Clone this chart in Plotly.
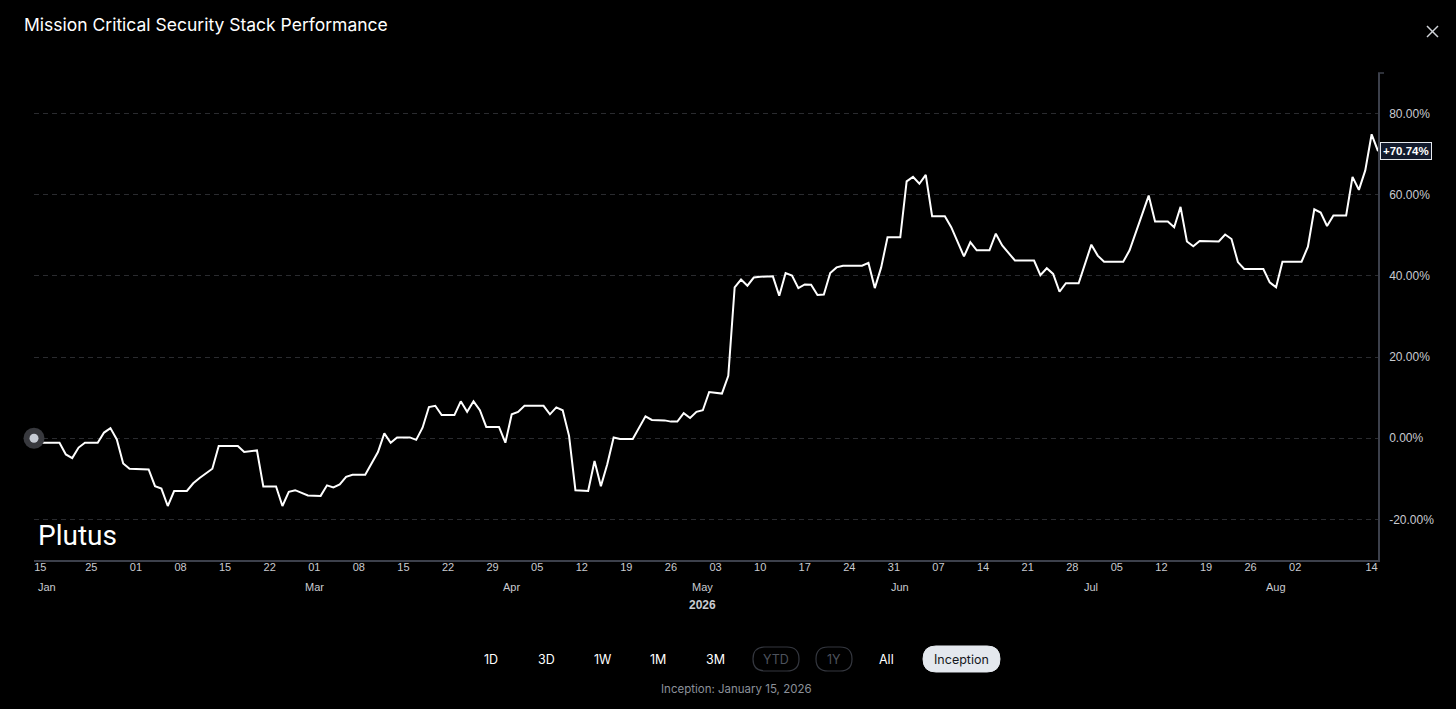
import plotly.graph_objects as go

W, H = 1456, 709

# ── Datos de la curva (rendimiento acumulado, %) ───────────────────────────
dates = [
    "2026-01-16", "2026-01-17", "2026-01-20", "2026-01-21", "2026-01-22", "2026-01-23",
    "2026-01-24", "2026-01-26", "2026-01-27", "2026-01-28", "2026-01-29", "2026-01-30",
    "2026-01-31", "2026-02-03", "2026-02-04", "2026-02-05", "2026-02-06", "2026-02-07",
    "2026-02-09", "2026-02-10", "2026-02-11", "2026-02-13", "2026-02-14", "2026-02-17",
    "2026-02-18", "2026-02-20", "2026-02-21", "2026-02-23", "2026-02-24", "2026-02-25",
    "2026-02-26", "2026-02-28", "2026-03-02", "2026-03-03", "2026-03-04", "2026-03-05",
    "2026-03-06", "2026-03-07", "2026-03-09", "2026-03-11", "2026-03-12", "2026-03-13",
    "2026-03-14", "2026-03-16", "2026-03-17", "2026-03-18", "2026-03-19", "2026-03-20",
    "2026-03-21", "2026-03-23", "2026-03-24", "2026-03-25", "2026-03-26", "2026-03-27",
    "2026-03-28", "2026-03-30", "2026-03-31", "2026-04-01", "2026-04-02", "2026-04-03",
    "2026-04-06", "2026-04-07", "2026-04-08", "2026-04-09", "2026-04-10", "2026-04-11",
    "2026-04-13", "2026-04-14", "2026-04-15", "2026-04-16", "2026-04-17", "2026-04-18",
    "2026-04-20", "2026-04-22", "2026-04-23", "2026-04-25", "2026-04-26", "2026-04-27",
    "2026-04-28", "2026-04-29", "2026-04-30", "2026-05-01", "2026-05-02", "2026-05-04",
    "2026-05-05", "2026-05-06", "2026-05-07", "2026-05-08", "2026-05-09", "2026-05-10",
    "2026-05-12", "2026-05-13", "2026-05-14", "2026-05-15", "2026-05-16", "2026-05-17",
    "2026-05-18", "2026-05-19", "2026-05-20", "2026-05-21", "2026-05-22", "2026-05-23",
    "2026-05-26", "2026-05-27", "2026-05-28", "2026-05-29", "2026-05-30", "2026-06-01",
    "2026-06-02", "2026-06-03", "2026-06-04", "2026-06-05", "2026-06-06", "2026-06-08",
    "2026-06-09", "2026-06-11", "2026-06-12", "2026-06-13", "2026-06-15", "2026-06-16",
    "2026-06-17", "2026-06-19", "2026-06-22", "2026-06-23", "2026-06-24", "2026-06-25",
    "2026-06-26", "2026-06-27", "2026-06-29", "2026-07-01", "2026-07-02", "2026-07-03",
    "2026-07-06", "2026-07-07", "2026-07-09", "2026-07-10", "2026-07-11", "2026-07-13",
    "2026-07-14", "2026-07-15", "2026-07-16", "2026-07-17", "2026-07-18", "2026-07-21",
    "2026-07-22", "2026-07-23", "2026-07-24", "2026-07-25", "2026-07-28", "2026-07-29",
    "2026-07-30", "2026-07-31", "2026-08-03", "2026-08-04", "2026-08-05", "2026-08-06",
    "2026-08-07", "2026-08-08", "2026-08-10", "2026-08-11", "2026-08-12", "2026-08-13",
    "2026-08-14", "2026-08-15",
]
returns = [
    0.0, -1.1, -1.1, -4.0, -4.9, -2.3,
    -1.1, -1.1, 1.4, 2.5, -0.3, -6.2,
    -7.5, -7.7, -11.8, -12.4, -16.7, -13.0,
    -13.0, -11.1, -9.8, -7.5, -1.9, -1.9,
    -3.4, -3.0, -11.9, -11.9, -16.7, -13.2,
    -12.8, -14.1, -14.2, -11.6, -12.1, -11.4,
    -9.5, -9.0, -9.0, -3.4, 1.2, -1.1,
    0.2, 0.2, -0.4, 2.6, 7.7, 8.0,
    5.7, 5.7, 9.1, 6.5, 9.1, 6.9,
    2.8, 2.8, -1.1, 5.9, 6.5, 8.0,
    8.0, 5.9, 7.6, 6.9, 0.6, -12.8,
    -13.0, -5.6, -11.8, -6.4, 0.2, -0.2,
    -0.2, 5.4, 4.5, 4.4, 4.1, 4.1,
    6.2, 5.0, 6.5, 6.9, 11.4, 11.0,
    15.4, 37.2, 39.1, 37.6, 39.6, 39.8,
    39.9, 35.1, 40.7, 40.1, 37.0, 37.9,
    37.8, 35.3, 35.4, 40.7, 42.1, 42.5,
    42.5, 43.2, 37.0, 42.1, 49.5, 49.5,
    63.3, 64.4, 62.7, 64.9, 54.7, 54.7,
    52.0, 44.8, 48.3, 46.3, 46.3, 50.4,
    47.5, 43.8, 43.8, 40.2, 41.9, 40.5,
    36.1, 38.2, 38.2, 47.7, 45.0, 43.5,
    43.5, 46.3, 55.3, 59.8, 53.4, 53.4,
    52.0, 57.0, 48.5, 47.3, 48.6, 48.5,
    50.2, 49.1, 43.4, 41.7, 41.7, 38.4,
    37.2, 43.5, 43.5, 47.2, 56.4, 55.6,
    52.3, 54.9, 54.9, 64.4, 61.2, 66.0,
    74.9, 70.74,
]

# ── Ejes ───────────────────────────────────────────────────────────────────
x_tick_vals = [
    "2026-01-17", "2026-01-25", "2026-02-01", "2026-02-08", "2026-02-15", "2026-02-22",
    "2026-03-01", "2026-03-08", "2026-03-15", "2026-03-22", "2026-03-29", "2026-04-05",
    "2026-04-12", "2026-04-19", "2026-04-26", "2026-05-03", "2026-05-10", "2026-05-17",
    "2026-05-24", "2026-05-31", "2026-06-07", "2026-06-14", "2026-06-21", "2026-06-28",
    "2026-07-05", "2026-07-12", "2026-07-19", "2026-07-26", "2026-08-02", "2026-08-14",
]
x_tick_text = [
    "15", "25", "01", "08", "15", "22", "01", "08", "15", "22", "29", "05",
    "12", "19", "26", "03", "10", "17", "24", "31", "07", "14", "21", "28",
    "05", "12", "19", "26", "02", "14",
]
month_dates = ["2026-01-18", "2026-03-01", "2026-04-01", "2026-05-01",
               "2026-06-01", "2026-07-01", "2026-07-30"]
month_names = ["Jan", "Mar", "Apr", "May", "Jun", "Jul", "Aug"]

y_tick_vals = [-20, 0, 20, 40, 60, 80]
y_tick_text = [f"{v:.2f}%" for v in y_tick_vals]

buttons = ["1D", "3D", "1W", "1M", "3M", "YTD", "1Y", "All", "Inception"]
button_x = [491, 546, 602, 658, 715, 776, 834, 887, 961]


def px_x(p):
    return p / W


def px_y(p):
    return 1 - p / H


def pill_path(x0, y0, x1, y1):
    """Rectángulo de esquinas redondeadas (en px) convertido a coords paper."""
    r = (y1 - y0) / 2
    pts = [
        ("M", [(x0 + r, y0)]),
        ("L", [(x1 - r, y0)]),
        ("Q", [(x1, y0), (x1, y0 + r)]),
        ("Q", [(x1, y1), (x1 - r, y1)]),
        ("L", [(x0 + r, y1)]),
        ("Q", [(x0, y1), (x0, y1 - r)]),
        ("Q", [(x0, y0), (x0 + r, y0)]),
    ]
    out = []
    for cmd, coords in pts:
        out.append(cmd + " " + " ".join(f"{px_x(a):.5f},{px_y(b):.5f}" for a, b in coords))
    return " ".join(out) + " Z"


AXIS_COLOR = "#3c404b"
TICK_COLOR = "#c9cbd0"

fig = go.Figure()

fig.add_trace(go.Scatter(
    x=dates, y=returns, mode="lines",
    line=dict(color="white", width=2),
    hoverinfo="skip",
))
# marcador de inicio (halo + punto)
fig.add_trace(go.Scatter(
    x=dates[:1], y=returns[:1], mode="markers",
    marker=dict(size=21, color="#38393e"), hoverinfo="skip", cliponaxis=False,
))
fig.add_trace(go.Scatter(
    x=dates[:1], y=returns[:1], mode="markers",
    marker=dict(size=9, color="#c5cad3"), hoverinfo="skip", cliponaxis=False,
))

fig.update_layout(
    width=W, height=H,
    margin=dict(l=0, r=0, t=0, b=0, pad=0),
    paper_bgcolor="black", plot_bgcolor="black",
    showlegend=False,
    font=dict(family="Liberation Sans, Arial, sans-serif", color=TICK_COLOR),
)
fig.update_xaxes(
    type="date",
    range=[dates[0], dates[-1]],
    domain=[px_x(34), px_x(1378)],
    tickvals=x_tick_vals, ticktext=x_tick_text,
    tickfont=dict(size=11, color=TICK_COLOR),
    showgrid=False, zeroline=False,
    showline=True, linecolor=AXIS_COLOR, linewidth=1.5,
    ticks="", ticklabelstandoff=-4,
)
fig.update_yaxes(
    side="right",
    range=[-30, 90],
    domain=[px_y(560), px_y(73)],
    tickvals=y_tick_vals, ticktext=y_tick_text,
    tickfont=dict(size=12, color=TICK_COLOR),
    showgrid=True, gridcolor="#2a2b2f", griddash="5px,4px", gridwidth=1,
    zeroline=False,
    showline=True, linecolor=AXIS_COLOR, linewidth=1.5,
    ticks="", ticklabelstandoff=7,
)

annotations = []
# título
annotations.append(dict(
    x=px_x(22), y=px_y(25), xref="paper", yref="paper",
    xanchor="left", yanchor="middle", showarrow=False,
    text="Mission Critical Security Stack Performance",
    font=dict(family="Inter, Noto Sans, sans-serif", size=17.5, color="white"),
))
# marca de agua
annotations.append(dict(
    x=px_x(36), y=px_y(535), xref="paper", yref="paper",
    xanchor="left", yanchor="middle", showarrow=False,
    text="Plutus",
    font=dict(family="Roboto, Liberation Sans, Arial", size=28, color="white"),
))
# meses y año
for d, m in zip(month_dates, month_names):
    annotations.append(dict(
        x=d, y=px_y(587), xref="x", yref="paper",
        xanchor="center", yanchor="middle", showarrow=False,
        text=m, font=dict(size=11, color=TICK_COLOR),
    ))
annotations.append(dict(
    x="2026-05-01", y=px_y(605), xref="x", yref="paper",
    xanchor="center", yanchor="middle", showarrow=False,
    text="<b>2026</b>", font=dict(size=12, color=TICK_COLOR),
))
# último valor
annotations.append(dict(
    x=dates[-1], y=returns[-1], xref="x", yref="y",
    xanchor="left", yanchor="middle", xshift=2, showarrow=False,
    text=f"<b>+{returns[-1]:.2f}%</b>",
    font=dict(size=11.5, color="white"),
    bgcolor="#121a2c", bordercolor="#e6e9ee", borderwidth=1, borderpad=2,
))
# selector de rango
for label, bx in zip(buttons, button_x):
    color = "white"
    if label in ("YTD", "1Y"):
        color = "#4d525c"
    elif label == "Inception":
        color = "#15171c"
    annotations.append(dict(
        x=px_x(bx), y=px_y(659), xref="paper", yref="paper",
        xanchor="center", yanchor="middle", showarrow=False,
        text=label,
        font=dict(family="Inter, Noto Sans, sans-serif", size=12.5, color=color),
    ))
annotations.append(dict(
    x=px_x(736), y=px_y(689), xref="paper", yref="paper",
    xanchor="center", yanchor="middle", showarrow=False,
    text="Inception: January 15, 2026",
    font=dict(family="Inter, Noto Sans, sans-serif", size=11.5, color="#8b9099"),
))
fig.update_layout(annotations=annotations)

shapes = [
    # botones con borde
    dict(type="path", xref="paper", yref="paper", path=pill_path(753, 647, 799, 671),
         line=dict(color="#34373f", width=1.2), fillcolor="rgba(0,0,0,0)"),
    dict(type="path", xref="paper", yref="paper", path=pill_path(816, 647, 852, 671),
         line=dict(color="#34373f", width=1.2), fillcolor="rgba(0,0,0,0)"),
    dict(type="path", xref="paper", yref="paper", path=pill_path(923, 646, 1000, 672),
         line=dict(color="#e4e8ee", width=1), fillcolor="#e4e8ee", layer="below"),
    # muesca superior del eje Y
    dict(type="line", xref="paper", yref="paper",
         x0=px_x(1378), x1=px_x(1384), y0=px_y(73), y1=px_y(73),
         line=dict(color=AXIS_COLOR, width=1.5)),
    # botón cerrar
    dict(type="line", xref="paper", yref="paper",
         x0=px_x(1427), x1=px_x(1438), y0=px_y(26), y1=px_y(37),
         line=dict(color="#d0d3d8", width=1.5)),
    dict(type="line", xref="paper", yref="paper",
         x0=px_x(1427), x1=px_x(1438), y0=px_y(37), y1=px_y(26),
         line=dict(color="#d0d3d8", width=1.5)),
]
fig.update_layout(shapes=shapes)

fig.write_html("out.html", config={"displayModeBar": False},
               post_script="document.body.style.margin='0';")
